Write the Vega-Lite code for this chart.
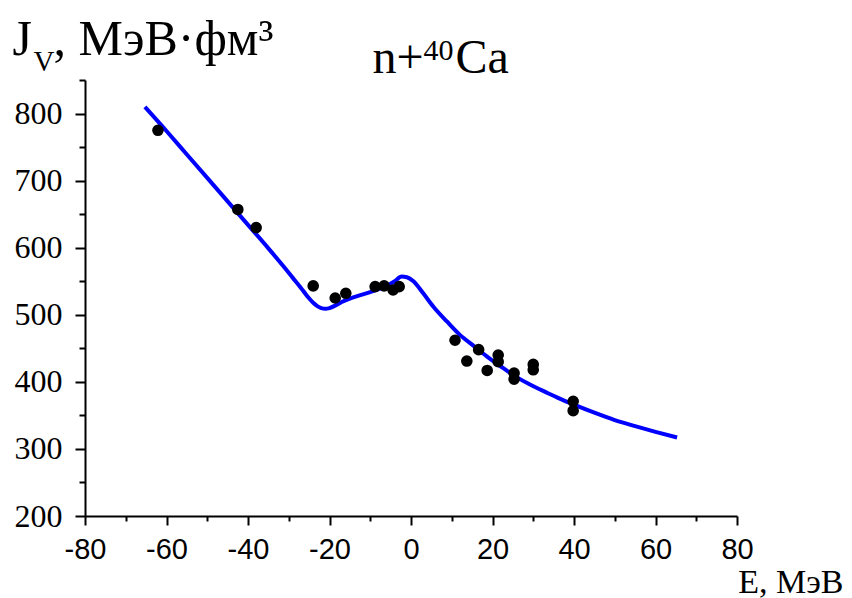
{
  "$schema": "https://vega.github.io/schema/vega-lite/v6.json",
  "width": 652,
  "height": 436,
  "autosize": {"type": "none"},
  "padding": {"left": 85, "top": 80, "right": 115, "bottom": 82},
  "background": "white",
  "config": {"view": {"stroke": null}, "axis": {"grid": false}},
  "datasets": {
    "curve": [
      {"E": -65.3, "J": 810}, {"E": -60, "J": 774}, {"E": -55, "J": 739}, {"E": -50, "J": 704},
      {"E": -45, "J": 669}, {"E": -40, "J": 634}, {"E": -35, "J": 599}, {"E": -31, "J": 570},
      {"E": -29, "J": 555}, {"E": -27, "J": 540}, {"E": -25.5, "J": 528}, {"E": -24, "J": 518},
      {"E": -23, "J": 513}, {"E": -22, "J": 510}, {"E": -21, "J": 509}, {"E": -20, "J": 510},
      {"E": -18.5, "J": 514}, {"E": -17, "J": 519}, {"E": -15, "J": 524}, {"E": -12, "J": 530},
      {"E": -9, "J": 536}, {"E": -6, "J": 543}, {"E": -4, "J": 550}, {"E": -2.3, "J": 557},
      {"E": -1, "J": 556}, {"E": 0.6, "J": 550}, {"E": 3, "J": 532}, {"E": 5.5, "J": 512},
      {"E": 8.8, "J": 490}, {"E": 12, "J": 470}, {"E": 15.3, "J": 454}, {"E": 18.6, "J": 438},
      {"E": 21.8, "J": 424}, {"E": 25.1, "J": 410}, {"E": 29.2, "J": 396}, {"E": 33.3, "J": 384},
      {"E": 36.5, "J": 375}, {"E": 40, "J": 366}, {"E": 45, "J": 354}, {"E": 50, "J": 343},
      {"E": 55, "J": 334}, {"E": 60, "J": 325.5}, {"E": 65.3, "J": 317}
    ],
    "points": [
      {"E": -62.1, "J": 775}, {"E": -42.5, "J": 657}, {"E": -38.0, "J": 630}, {"E": -24.0, "J": 543},
      {"E": -18.6, "J": 525}, {"E": -16.0, "J": 532}, {"E": -8.8, "J": 542}, {"E": -6.6, "J": 543},
      {"E": -4.4, "J": 537}, {"E": -2.9, "J": 542}, {"E": 10.8, "J": 462}, {"E": 13.7, "J": 431},
      {"E": 16.6, "J": 448}, {"E": 18.7, "J": 417}, {"E": 21.4, "J": 440}, {"E": 21.4, "J": 430},
      {"E": 25.3, "J": 413}, {"E": 25.3, "J": 404}, {"E": 30.0, "J": 426}, {"E": 30.0, "J": 418},
      {"E": 39.8, "J": 371}, {"E": 39.8, "J": 357}
    ]
  },
  "layer": [
    {
      "data": {"name": "curve"},
      "mark": {"type": "line", "color": "#0000ff", "strokeWidth": 4, "interpolate": "monotone"},
      "encoding": {
        "x": {
          "field": "E", "type": "quantitative",
          "scale": {"domain": [-80, 80], "nice": false, "zero": false},
          "axis": {
            "orient": "bottom",
            "values": [-80, -60, -40, -20, 0, 20, 40, 60, 80],
            "tickSize": 9, "tickWidth": 2, "tickColor": "black",
            "domainColor": "black", "domainWidth": 2,
            "labelFont": "Liberation Sans", "labelFontSize": 29, "labelColor": "black",
            "labelPadding": 10, "labelExpr": "'' + datum.value",
            "labelFlush": false, "labelOverlap": false, "labelBound": false,
            "title": "E, МэВ", "titleFont": "Liberation Serif", "titleFontSize": 34,
            "titleFontWeight": "normal", "titleColor": "black",
            "titleX": 758, "titleY": 76, "titleAlign": "right", "titleBaseline": "alphabetic"
          }
        },
        "y": {
          "field": "J", "type": "quantitative",
          "scale": {"domain": [200, 850], "nice": false, "zero": false},
          "axis": {
            "orient": "left",
            "values": [200, 300, 400, 500, 600, 700, 800],
            "tickSize": 10, "tickWidth": 2, "tickColor": "black",
            "domainColor": "black", "domainWidth": 2,
            "labelFont": "Liberation Serif", "labelFontSize": 32, "labelColor": "black",
            "labelPadding": 13, "labelExpr": "'' + datum.value",
            "labelFlush": false, "labelOverlap": false, "labelBound": false,
            "title": "J", "titleFont": "Liberation Serif", "titleFontSize": 50,
            "titleFontWeight": "normal", "titleColor": "black", "titleAngle": 0,
            "titleX": -73, "titleY": -26, "titleAlign": "left", "titleBaseline": "alphabetic"
          }
        }
      }
    },
    {
      "data": {"name": "points"},
      "mark": {"type": "point", "filled": true, "color": "black", "opacity": 1, "size": 135},
      "encoding": {
        "x": {
          "field": "E", "type": "quantitative",
          "axis": {
            "orient": "bottom",
            "values": [-70, -50, -30, -10, 10, 30, 50, 70],
            "domain": false, "labels": false,
            "tickSize": 5, "tickWidth": 2, "tickColor": "black",
            "title": ", МэВ·фм³", "titleFont": "Liberation Serif", "titleFontSize": 50,
            "titleFontWeight": "normal", "titleColor": "black",
            "titleX": -32, "titleY": -462, "titleAlign": "left", "titleBaseline": "alphabetic"
          }
        },
        "y": {
          "field": "J", "type": "quantitative",
          "axis": {
            "orient": "left",
            "values": [250, 350, 450, 550, 650, 750, 850],
            "domain": false, "labels": false,
            "tickSize": 6, "tickWidth": 2, "tickColor": "black",
            "title": "V", "titleFont": "Liberation Serif", "titleFontSize": 29,
            "titleFontWeight": "normal", "titleColor": "black", "titleAngle": 0,
            "titleX": -52, "titleY": -10, "titleAlign": "left", "titleBaseline": "alphabetic"
          }
        }
      }
    },
    {
      "data": {"name": "points"},
      "mark": {"type": "point", "filled": true, "opacity": 0, "size": 1},
      "encoding": {
        "x": {
          "field": "E", "type": "quantitative",
          "axis": {
            "orient": "bottom", "domain": false, "labels": false, "ticks": false,
            "title": "n+", "titleFont": "Liberation Serif", "titleFontSize": 48,
            "titleFontWeight": "normal", "titleColor": "black",
            "titleX": 287, "titleY": -444, "titleAlign": "left", "titleBaseline": "alphabetic"
          }
        },
        "y": {
          "field": "J", "type": "quantitative",
          "axis": {
            "orient": "left", "domain": false, "labels": false, "ticks": false,
            "title": "40", "titleFont": "Liberation Serif", "titleFontSize": 30,
            "titleFontWeight": "normal", "titleColor": "black", "titleAngle": 0,
            "titleX": 338, "titleY": -21, "titleAlign": "left", "titleBaseline": "alphabetic"
          }
        }
      }
    },
    {
      "data": {"name": "points"},
      "mark": {"type": "point", "filled": true, "opacity": 0, "size": 1},
      "encoding": {
        "x": {
          "field": "E", "type": "quantitative",
          "axis": {
            "orient": "bottom", "domain": false, "labels": false, "ticks": false,
            "title": "Ca", "titleFont": "Liberation Serif", "titleFontSize": 48,
            "titleFontWeight": "normal", "titleColor": "black",
            "titleX": 370, "titleY": -444, "titleAlign": "left", "titleBaseline": "alphabetic"
          }
        },
        "y": {"field": "J", "type": "quantitative", "axis": null}
      }
    }
  ],
  "resolve": {"axis": {"x": "independent", "y": "independent"}}
}
